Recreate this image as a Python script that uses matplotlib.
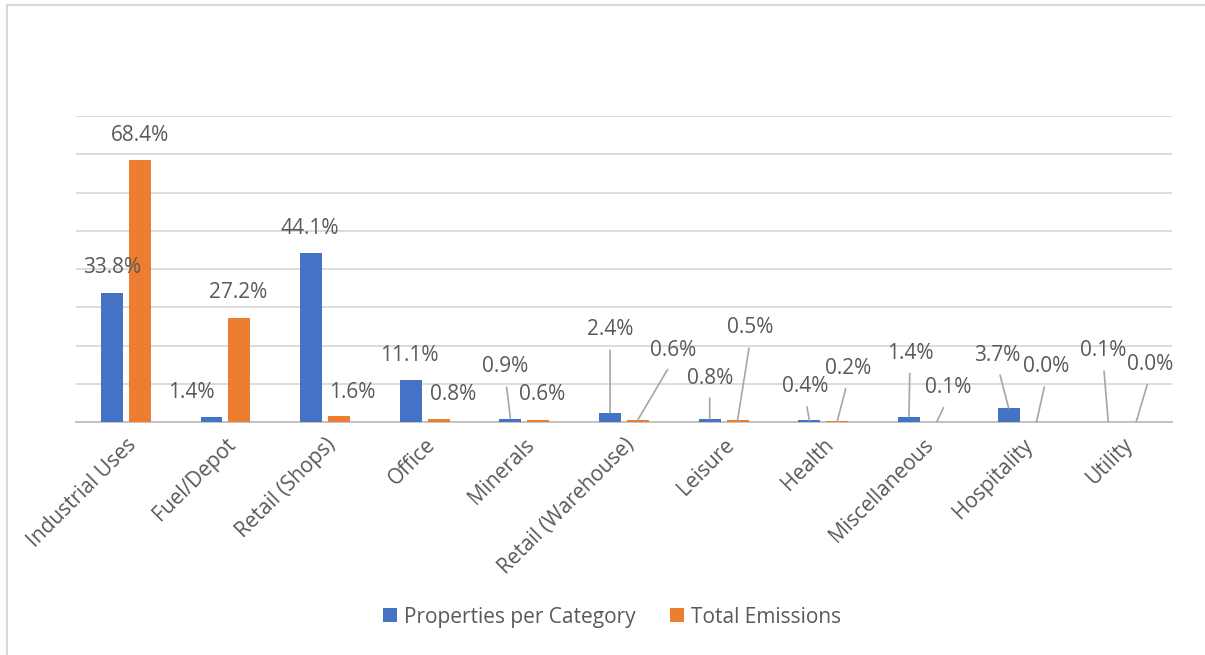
import matplotlib.pyplot as plt
from matplotlib.lines import Line2D

# Share of properties and emissions per property category (%)
categories = ["Industrial Uses", "Fuel/Depot", "Retail (Shops)", "Office", "Minerals",
              "Retail (Warehouse)", "Leisure", "Health", "Miscellaneous", "Hospitality", "Utility"]
properties = [33.8, 1.4, 44.1, 11.1, 0.9, 2.4, 0.8, 0.4, 1.4, 3.7, 0.1]
emissions = [68.4, 27.2, 1.6, 0.8, 0.6, 0.6, 0.5, 0.2, 0.1, 0.0, 0.0]

# where the data labels were dragged to (x in category units, y in %)
prop_label_pos = [(-0.14, 40.3), (0.66, 7.8), (1.85, 50.7), (2.85, 17.5), (3.81, 14.4),
                  (4.86, 24.1), (5.86, 11.5), (6.82, 9.2), (7.87, 18.0), (8.75, 17.5), (9.81, 18.6)]
emis_label_pos = [(0.14, 75.0), (1.13, 33.8), (2.27, 7.8), (3.28, 7.3), (4.18, 7.3),
                  (5.49, 18.8), (6.27, 24.6), (7.25, 13.9), (8.25, 8.9), (9.24, 14.4), (10.28, 15.0)]
prop_leader = [False, False, False, False, True, True, True, True, True, True, True]
emis_leader = [False, False, False, False, False, True, True, True, True, True, True]

BLUE = "#4472C4"
ORANGE = "#ED7D31"
TEXT = "#595959"
GRID = "#D9D9D9"
LEADER = "#A6A6A6"
FS = 15

plt.rcParams["font.family"] = ["Open Sans", "DejaVu Sans"]

fig = plt.figure(figsize=(12.05, 6.55), dpi=100)
ax = fig.add_axes([0.0631, 0.3557, 0.9095, 0.4672])

x = list(range(len(categories)))
w = 0.22
off = 0.14
ax.bar([i - off for i in x], properties, width=w, color=BLUE, zorder=3,
       label="Properties per Category")
ax.bar([i + off for i in x], emissions, width=w, color=ORANGE, zorder=3,
       label="Total Emissions")


def put_labels(values, positions, leaders, dx):
    for i, (v, (lx, ly), lead) in enumerate(zip(values, positions, leaders)):
        if lead:
            ax.annotate(f"{v:.1f}%", xy=(i + dx, v), xytext=(lx, ly),
                        ha="center", va="center", fontsize=FS, color=TEXT,
                        arrowprops=dict(arrowstyle="-", color=LEADER, lw=1.2,
                                        relpos=(0.5, 0), shrinkA=5, shrinkB=0))
        else:
            ax.text(lx, ly, f"{v:.1f}%", ha="center", va="center",
                    fontsize=FS, color=TEXT)


put_labels(properties, prop_label_pos, prop_leader, -off)
put_labels(emissions, emis_label_pos, emis_leader, off)

ax.set_xlim(-0.5, len(categories) - 0.5)
ax.set_ylim(0, 80)
ax.set_yticks(range(0, 81, 10))
ax.yaxis.grid(True, color=GRID, lw=1.3, zorder=0)
ax.tick_params(axis="y", left=False, labelleft=False)
ax.tick_params(axis="x", length=0, pad=9)
ax.set_xticks(x)
ax.set_xticklabels(categories, rotation=45, ha="right", rotation_mode="anchor",
                   fontsize=FS, color=TEXT)
for s in ["left", "right", "top"]:
    ax.spines[s].set_visible(False)
ax.spines["bottom"].set_color("#BFBFBF")
ax.spines["bottom"].set_linewidth(1.3)

fig.legend(loc="center", bbox_to_anchor=(0.508, 0.058), ncol=2, frameon=False,
           fontsize=FS, labelcolor=TEXT, handlelength=0.65, handleheight=0.65,
           handletextpad=0.35, columnspacing=1.65)

# chart area border: only its top and left edges fall inside the image
top_y = 1 - 4.5 / 655
left_x = 6.5 / 1205
fig.add_artist(Line2D([left_x, 1.0], [top_y, top_y], transform=fig.transFigure,
                      color=GRID, lw=1.5))
fig.add_artist(Line2D([left_x, left_x], [0.0, top_y], transform=fig.transFigure,
                      color=GRID, lw=1.5))

fig.savefig("out.png", dpi=100)
